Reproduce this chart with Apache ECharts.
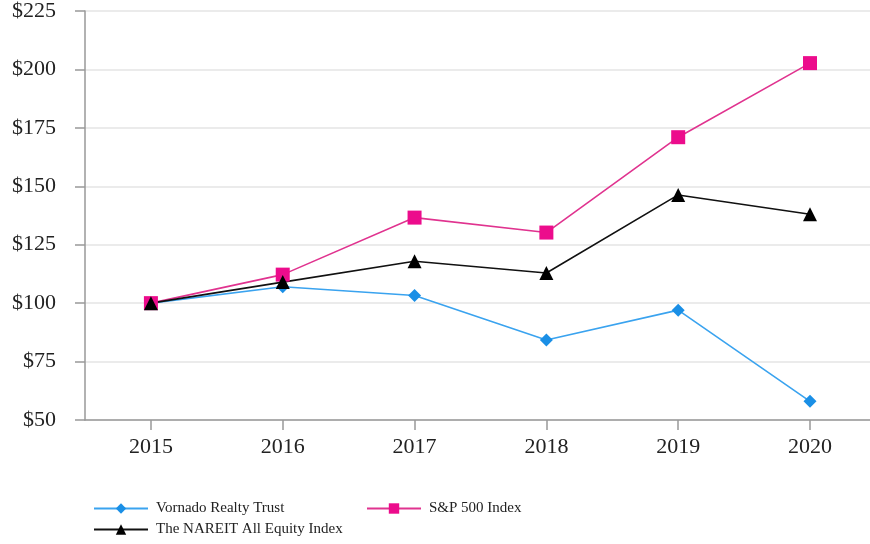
<!DOCTYPE html>
<html lang="en">
<head>
  <meta charset="UTF-8">
  <title>Cumulative total return</title>
  <style>
    #container, html, body {
      margin: 0;
      padding: 0;
      height: 100%;
      width: 100%;
      background: #fff;
    }
  </style>
</head>
<body>
  <div id="container"></div>
</body>
<script src="https://cdn.jsdelivr.net/npm/echarts@6/dist/echarts.min.js"></script>
<script>
  var years = [2015, 2016, 2017, 2018, 2019, 2020]
  var vornado = [100, 107, 103.3, 84.2, 97, 58]
  var sp500 = [100, 112.2, 136.6, 130.2, 171, 202.7]
  var nareit = [100, 109, 117.9, 112.9, 146.3, 138]
  var yTicks = {min: 50, max: 225, step: 25}

  var serif = '"Liberation Serif", "Times New Roman", serif'

  // pair each value with its year for the value-type x axis
  var pairs = function (vals) {
    return vals.map(function (v, i) { return [years[i], v] })
  }

  window.onload = function () {
    var charts = echarts.init(document.querySelector('#container'))
    var legendText = {fontFamily: serif, fontSize: 15, color: '#222', padding: [0, 0, 0, 3]}
    var option = {
      animation: false,
      backgroundColor: '#fff',
      grid: {left: 85, top: 9, right: 0, height: 411, containLabel: false},
      legend: [
        {data: ['Vornado Realty Trust'], left: 93, top: 501, padding: 0, itemWidth: 54, itemHeight: 13, textStyle: legendText},
        {data: ['S&P 500 Index'], left: 366, top: 501, padding: 0, itemWidth: 54, itemHeight: 13, textStyle: legendText},
        {data: ['The NAREIT All Equity Index'], left: 93, top: 522, padding: 0, itemWidth: 54, itemHeight: 13, textStyle: legendText}
      ],
      xAxis: {
        type: 'value',
        min: 2014.5,
        max: 2020.455,
        splitLine: {show: false},
        axisLine: {lineStyle: {color: '#999', width: 1.5}},
        axisTick: {customValues: years, length: 10, lineStyle: {color: '#999', width: 1.5}},
        axisLabel: {customValues: years, fontFamily: serif, fontSize: 22, color: '#222', margin: 16,
          formatter: function (v) { return String(v) }}
      },
      yAxis: {
        type: 'value',
        min: yTicks.min,
        max: yTicks.max,
        interval: yTicks.step,
        axisLine: {show: true, lineStyle: {color: '#999', width: 1.5}},
        axisTick: {show: true, length: 10, lineStyle: {color: '#999', width: 1.5}},
        axisLabel: {fontFamily: serif, fontSize: 22, color: '#222', margin: 29, formatter: function (v) { return '$' + v }},
        splitLine: {lineStyle: {color: '#e4e4e4', width: 1.5}}
      },
      series: [
        {
          name: 'Vornado Realty Trust',
          type: 'line',
          data: pairs(vornado),
          symbol: 'diamond',
          symbolSize: 13,
          itemStyle: {color: '#1a8fe6'},
          lineStyle: {color: '#3aa3ef', width: 1.6}
        },
        {
          name: 'S&P 500 Index',
          type: 'line',
          data: pairs(sp500),
          symbol: 'rect',
          symbolSize: 14,
          itemStyle: {color: '#ec0c8c'},
          lineStyle: {color: '#e0338f', width: 1.6}
        },
        {
          name: 'The NAREIT All Equity Index',
          type: 'line',
          data: pairs(nareit),
          symbol: 'triangle',
          symbolSize: 14,
          itemStyle: {color: '#000'},
          lineStyle: {color: '#111', width: 1.6}
        }
      ]
    }
    charts.setOption(option)
    window.onresize = charts.resize
  }
</script>
</html>
